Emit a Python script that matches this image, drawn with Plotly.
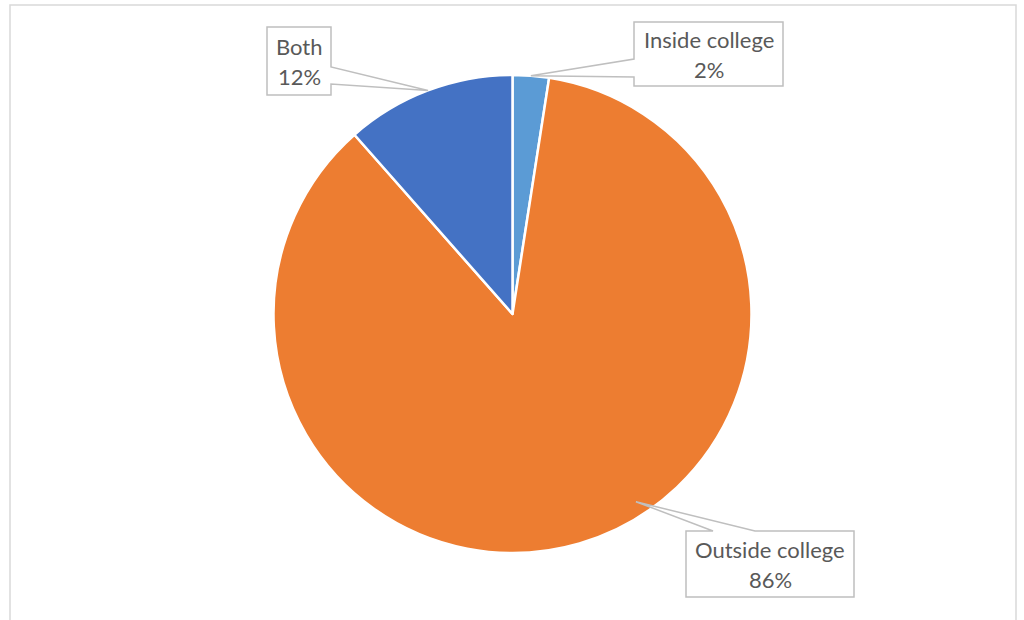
import math
import plotly.graph_objects as go

# Where students do their work: share of respondents
categories = ["Inside college", "Outside college", "Both"]
values = [2.45, 86.05, 11.5]
colors = ["#5B9BD5", "#ED7D31", "#4472C4"]

W, H = 1024, 620
CX, CY, R = 512.5, 314.0, 239.0  # pie centre and radius in pixels

# Callout boxes (pixel layout) and where each pointer leaves its box
callouts = [
    dict(box=(634, 22, 783, 86), side="left", base=(59, 77), frac=0.5, rf=1.0),
    dict(box=(686, 531, 854, 597), side="top", base=(713, 755), frac=0.445, rf=0.94),
    dict(box=(267, 27, 331, 95), side="right", base=(67, 84), frac=0.5, rf=1.0),
]
LINE_GAP = 15  # half the distance between the two text lines of a callout

total = sum(values)
fig = go.Figure()

fig.add_trace(go.Pie(
    labels=categories,
    values=values,
    sort=False,
    direction="clockwise",
    rotation=0,
    marker=dict(colors=colors, line=dict(color="white", width=2.5)),
    textinfo="none",
    hoverinfo="label+percent",
    showlegend=False,
    domain=dict(
        x=[(CX - R) / W, (CX + R) / W],
        y=[1 - (CY + R) / H, 1 - (CY - R) / H],
    ),
))

# Invisible pixel axes so the callouts can be laid out in screen units
fig.add_trace(go.Scatter(x=[0, W], y=[0, H], mode="markers",
                         marker=dict(opacity=0), hoverinfo="skip", showlegend=False))

shapes = [dict(type="rect", xref="x", yref="y", x0=10, y0=5, x1=1016, y1=640,
               line=dict(color="#D9D9D9", width=1.5), fillcolor="rgba(0,0,0,0)", layer="below")]
annotations = []
font = dict(family="Lato, Open Sans, sans-serif", size=22, color="#595959")

start = 0.0
for name, v, c in zip(categories, values, callouts):
    share = v / total
    ang = (start + share * c["frac"]) * 2 * math.pi
    start += share
    tx = CX + R * c["rf"] * math.sin(ang)
    ty = CY - R * c["rf"] * math.cos(ang)
    x0, y0, x1, y1 = c["box"]
    b0, b1 = c["base"]
    if c["side"] == "left":
        pts = [(x0, y0), (x1, y0), (x1, y1), (x0, y1), (x0, b1), (tx, ty), (x0, b0)]
    elif c["side"] == "right":
        pts = [(x0, y0), (x1, y0), (x1, b0), (tx, ty), (x1, b1), (x1, y1), (x0, y1)]
    else:  # top
        pts = [(x0, y0), (b0, y0), (tx, ty), (b1, y0), (x1, y0), (x1, y1), (x0, y1)]
    path = "M " + " L ".join(f"{px:.2f},{py:.2f}" for px, py in pts) + " Z"
    shapes.append(dict(type="path", xref="x", yref="y", path=path,
                       fillcolor="white", line=dict(color="#BFBFBF", width=1.5),
                       layer="above"))
    mx, my = (x0 + x1) / 2, (y0 + y1) / 2
    for text, dy in ((name, -LINE_GAP), (f"{round(share * 100)}%", LINE_GAP)):
        annotations.append(dict(
            x=mx, y=my + dy, xref="x", yref="y", text=text,
            showarrow=False, xanchor="center", yanchor="middle", font=font,
        ))

fig.update_layout(
    width=W, height=H,
    margin=dict(l=0, r=0, t=0, b=0),
    paper_bgcolor="white", plot_bgcolor="rgba(0,0,0,0)",
    xaxis=dict(range=[0, W], visible=False, fixedrange=True),
    yaxis=dict(range=[H, 0], visible=False, fixedrange=True),
    shapes=shapes,
    annotations=annotations,
)

fig.write_html("out.html")
